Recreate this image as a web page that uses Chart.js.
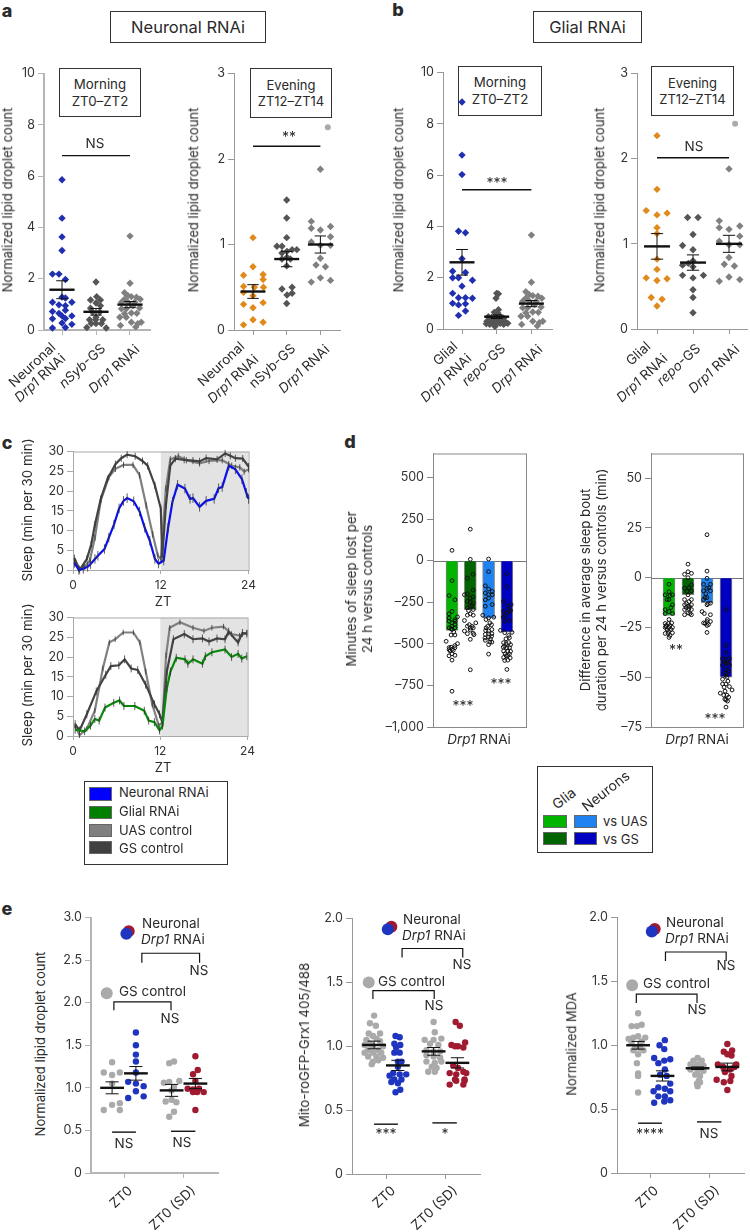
<!DOCTYPE html>
<html>
<head>
<meta charset="utf-8">
<title>Drp1 RNAi figure</title>
<script src="https://cdn.jsdelivr.net/npm/chart.js@4"></script>
<style>
  body { margin: 0; background: #fff; }
  #page { position: relative; width: 750px; height: 1232px; overflow: hidden; font-family: Inter, sans-serif; color: #2a2a2a; }
  #page canvas { position: absolute; }
  .t { position: absolute; white-space: nowrap; line-height: 1.2; font-weight: 400; }
  .box { position: absolute; box-sizing: border-box; border: 1.2px solid #333; background: #fff; display: flex; align-items: center; justify-content: center; text-align: center; font-weight: 400; }
  .sw { position: absolute; box-sizing: border-box; border: 1px solid #666; }
</style>
</head>
<body>
<div id="page"></div>
<script>
// panel a, neuronal RNAi: each point is [offset from group centre, value]
const a1Neuronal = [[0,5.86],[0,4.36],[0,3.63],[0,3.1],[-.28,2.18],[-.09,2.18],[.1,1.97],[0,1.28],[.1,1.25],[-.28,1.08],[.29,1.08],[-.09,.98],[.1,.95],[-.28,.72],[-.09,.65],[.1,.77],[-.28,.44],[0,.55],[.29,.55],[.1,.45],[0,.27],[.29,.22],[-.28,.08],[.1,.1]];
const a1NSyb = [[0,1.87],[.02,1.3],[-.16,1.17],[.13,1.17],[0,1.05],[.13,.95],[-.16,.85],[-.1,.7],[.11,.7],[-.19,.4],[-.01,.4],[.2,.4],[-.14,.25],[0,.25],[.16,.25],[-.27,.1],[.3,.08],[0,.5]];
const ctrlMorning = [[0,3.66],[0,1.82],[-.16,1.45],[-.06,1.34],[-.16,1.2],[.04,1.3],[.19,1.28],[.3,1.2],[-.25,1.08],[-.06,1.08],[.14,1.08],[.28,.86],[.09,.95],[-.25,.83],[-.11,.83],[-.16,.63],[.04,.66],[-.3,.5],[-.11,.5],[-.28,.18],[.04,.3],[.23,.25],[.33,.3],[.17,.12],[.2,.65]];
const a2Neuronal = [[0,1.08],[0,.74],[-.28,.64],[.3,.65],[-.28,.51],[.3,.59],[.04,.5],[.31,.5],[-.28,.44],[0,.4],[-.28,.3],[.3,.32],[0,.26],[-.28,.06],[0,.12],[.3,.09]];
const a2NSyb = [[0,1.52],[0,1.31],[0,1.08],[-.29,.98],[-.14,.98],[.3,.94],[.16,.94],[.01,.92],[-.14,.9],[.01,.85],[-.14,.83],[.11,.83],[0,.75],[-.14,.48],[.16,.5],[.01,.41],[.16,.43],[0,.31]];
const ctrlEvening = [[0,1.88],[-.27,1.27],[-.27,1.19],[0,1.17],[.3,1.21],[-.27,1.03],[.3,1.09],[.3,.99],[0,.99],[0,.84],[-.13,.76],[.15,.74],[0,.61],[-.27,.56],[.3,.58]];
const a2Outlier = [[.22,2.37]];
const a1Means = [1.57,.71,.99], a1Sems = [.35,.13,.12];
const a2Means = [.45,.83,1.0], a2Sems = [.08,.09,.1];

// panel b, glial RNAi
const b1Glial = [[0,8.85],[0,6.78],[0,6.02],[-.1,3.81],[.1,3.75],[0,2.74],[-.27,2.25],[.1,2.2],[-.27,2],[-.1,2],[.3,1.9],[0,1.67],[-.27,1.39],[-.1,1.22],[.1,1.22],[.3,1.2],[-.27,1],[-.1,.94],[.1,.98],[.1,.7],[-.1,.53]];
const b1Repo = [[0,1.39],[.05,1.37],[-.02,1.2],[.05,.75],[-.07,.65],[.03,.62],[-.24,.48],[.1,.5],[0,.55],[-.15,.42],[.2,.42],[-.28,.3],[-.18,.3],[-.07,.35],[.05,.35],[.15,.3],[.27,.25],[.32,.22],[-.3,.2],[-.2,.18],[-.1,.22],[0,.2],[.1,.22],[.2,.18],[-.05,.1]];
const b2Glial = [[0,2.27],[0,1.64],[-.3,1.39],[0,1.34],[.28,1.36],[0,1.19],[0,1.12],[0,.82],[0,.7],[-.3,.6],[0,.57],[.28,.59],[-.16,.37],[.14,.35],[0,.27]];
const b2Repo = [[-.15,1.31],[.14,1.31],[0,1.11],[-.29,.98],[0,.93],[0,.8],[-.29,.75],[-.13,.77],[0,.73],[-.29,.63],[0,.6],[.29,.63],[0,.46],[0,.37],[0,.19]];
const b2Outlier = [[.17,2.41]];
const b1Means = [2.6,.48,.99], b1Sems = [.5,.07,.12];
const b2Means = [.97,.78,1.0], b2Sems = [.15,.09,.1];

// panel c, sleep traces: [ZT, min per 30 min]
const c1Neuronal = [[.2,1.8],[.8,0],[1.4,.3],[2,.8],[2.4,1.5],[3,2.8],[3.4,3.6],[4.3,5.3],[4.9,8.2],[5.6,11.5],[6.3,15.6],[6.9,17.5],[7.4,18.2],[8.3,17.4],[9.1,14.8],[9.8,10.7],[10.5,7.4],[11.2,2.8],[11.7,1.6],[12.4,2.4],[13,10.7],[13.6,17.3],[14.3,21.6],[15.3,20.6],[16,18],[16.4,18.2],[17.3,16],[18.2,17.5],[19.3,18],[19.9,20.7],[20.4,21],[21.3,26.4],[22.2,25.5],[23.1,23],[23.7,19.5],[24,18]];
const c1Gs = [[.2,3],[.9,0],[1.9,2.8],[2.5,6.5],[3,11.5],[3.8,18],[4.7,23],[5.8,26.8],[6.6,28.3],[7.4,29.2],[8.5,28.8],[9.5,27.6],[10.2,26.4],[11.2,21.4],[12,15.6],[12.2,3.2],[12.7,16.4],[13.3,26.4],[14,28.2],[15.2,27.9],[16.4,27.7],[17.3,27.5],[18.2,28.3],[19.7,28],[20.8,29.5],[21.5,28.9],[22.2,28.3],[23.2,28.2],[24,26.2]];
const c1Uas = [[.2,2],[.8,.3],[1.6,.8],[2.3,2.4],[3,8.2],[3.8,17.7],[4.9,23.5],[5.8,25.6],[6.9,26.6],[8.2,26.6],[9.1,24],[10,16.4],[10.9,9],[11.6,3.6],[12,2.8],[12.7,20.6],[13.3,28],[14.4,28.8],[15.5,27.8],[17.3,27],[18.6,27.6],[20.4,27.8],[21.7,26.4],[22.8,26],[23.4,24.9],[24,25.5]];
const c2Glial = [[.3,1.6],[1.6,1.2],[2.4,2.6],[3,4.3],[3.6,3.9],[4.4,7.2],[5.6,8.4],[6.4,9],[7,7.6],[8.5,7.6],[9.8,6.4],[10.4,3.9],[11.2,3.5],[11.9,1.4],[12.3,2.6],[12.9,12.1],[13.4,16.3],[14.2,19.8],[15.4,19.4],[15.8,18.3],[16.5,19.4],[17.8,18.3],[18.2,20.2],[19.1,21.2],[20.9,21.9],[21.8,20],[22.7,20.8],[23.2,19.6],[23.9,20.2]];
const c2Gs = [[.3,3],[.9,1.4],[1.9,5.5],[3.2,11.3],[4.5,15.5],[5.2,17.7],[6.3,17.9],[7.1,19.4],[8,17.1],[8.9,16.7],[10,13],[11.2,8],[11.9,5.5],[12.3,3.5],[12.9,16.3],[13.8,24.5],[15.3,25.8],[16.5,24.5],[17.8,24.7],[18.7,23.9],[19.8,24.7],[20.9,24.5],[21.4,26.4],[22.7,23.7],[23.3,26.1],[23.9,25.9]];
const c2Uas = [[.3,2.6],[.9,.2],[1.9,1.8],[3,6.4],[4.1,17.1],[5,23.7],[5.8,24.5],[6.9,26.2],[8.3,26.2],[9.2,23.7],[10,16.3],[10.9,8],[11.8,2.6],[12.3,3.5],[12.8,20.4],[13.3,27.4],[14.7,28.8],[16.5,27.4],[18,26.6],[19.1,27.4],[20.7,27.7],[21.8,25.8],[22.9,25.4],[23.9,26.1]];
const c1Sems = {neuronal:1.2, gs:.9, uas:.8};
const c2Sems = {glial:1.0, gs:1.0, uas:.7};
const cXTicks = [0,12,24];

// panel d, bars and per-fly differences: [offset from bar, value]
const d1Bars = [-420,-295,-345,-430];
const d1GliaUas = [[0,62],[0,-120],[-.16,-210],[.16,-235],[0,-305],[-.16,-320],[.3,-338],[.16,-355],[-.16,-364],[0,-374],[.16,-384],[-.16,-404],[0,-414],[.16,-404],[-.05,-447],[.16,-447],[-.32,-485],[.3,-499],[-.16,-523],[0,-533],[.16,-523],[-.1,-543],[.07,-539],[-.16,-572],[.16,-569],[0,-598],[0,-785],[-.16,-345],[0,-395],[.16,-365],[-.05,-410],[.1,-430],[-.16,-535],[.16,-510],[0,-560],[-.05,-520]];
const d1GliaGs = [[0,189],[0,8],[.16,-82],[-.16,-105],[.16,-177],[-.16,-199],[.16,-219],[-.32,-205],[0,-225],[-.16,-245],[.16,-254],[0,-274],[-.16,-284],[.16,-294],[0,-320],[-.16,-328],[-.32,-360],[.16,-328],[-.16,-394],[.16,-404],[0,-417],[.3,-374],[-.32,-423],[-.16,-439],[.16,-437],[0,-473],[0,-656],[0,-250],[.1,-270],[-.1,-300],[-.05,-385],[.1,-395],[0,-405],[.2,-445]];
const d1NeuronUas = [[0,10],[0,-66],[-.18,-151],[.2,-185],[0,-171],[-.18,-195],[.2,-205],[0,-205],[-.18,-235],[0,-225],[.2,-264],[-.18,-274],[-.32,-328],[0,-344],[.28,-340],[.07,-374],[-.14,-354],[-.14,-404],[.18,-414],[0,-423],[-.18,-443],[.18,-439],[0,-459],[-.18,-479],[.07,-489],[0,-505],[0,-562],[.16,-385],[-.16,-420],[.16,-455],[0,-440],[-.2,-465],[.18,-490],[-.05,-395],[.1,-470]];
const d1NeuronGs = [[0,-80],[0,-157],[-.18,-245],[.23,-264],[.05,-274],[-.18,-304],[.14,-304],[0,-314],[-.12,-364],[.14,-360],[-.35,-419],[.28,-431],[-.12,-433],[.14,-463],[-.18,-493],[.1,-493],[-.12,-513],[.14,-523],[-.18,-543],[.05,-543],[-.04,-572],[-.18,-582],[.14,-562],[.05,-598],[0,-654],[.2,-505],[-.05,-500],[0,-525],[-.2,-520],[.2,-545],[-.1,-560],[.05,-570],[.18,-585],[-.12,-600],[-.05,-470],[.1,-450],[-.2,-340],[.2,-300],[-.08,-330]];
const d2Bars = [-19,-8.5,-12.5,-50];
const d2GliaUas = [[0,-3.3],[0,-7],[-.2,-8.6],[.18,-8.6],[0,-11],[.18,-13.6],[-.2,-16],[0,-17],[.18,-18],[-.2,-18],[0,-21],[-.2,-23],[-.03,-23],[.14,-22.7],[-.2,-25],[0,-25],[.18,-25],[-.03,-27],[-.2,-28],[.18,-27.7],[0,-30],[-.15,-24],[.05,-24],[-.1,-26],[.1,-26],[-.05,-28],[.05,-29],[-.15,-24.5],[.1,-15],[-.1,-11],[.05,-9]];
const d2GliaGs = [[0,6.8],[0,3],[-.18,1.7],[.18,2.2],[0,0],[.18,-3.6],[-.18,-5.3],[.18,-6.6],[0,-8.6],[-.18,-11],[.18,-11],[-.18,-13.6],[0,-14.4],[.18,-13.6],[-.18,-16],[.18,-16],[0,-17.7],[-.18,-18.6],[.18,-18.6],[.05,-5],[-.05,-7],[.05,-12],[-.08,-13],[.08,-14.5],[-.1,-15],[.05,-15.5],[.1,-18]];
const d2NeuronUas = [[0,21.6],[0,3.3],[0,-.3],[-.18,-3.3],[.18,-3.3],[0,-5.3],[-.18,-6.6],[.18,-6.6],[0,-10],[-.18,-11],[.18,-12.8],[0,-13.6],[-.26,-17],[.18,-18.6],[-.14,-18],[0,-22],[-.18,-22.7],[.18,-22],[0,-24],[0,-27.5],[-.06,-8],[.1,-5],[-.1,-10],[.06,-13],[-.1,-23],[.08,-23.5],[.02,-21]];
const d2NeuronGs = [[0,-16],[0,-34],[0,-37.6],[-.18,-40.6],[.18,-40.6],[0,-42.6],[-.18,-44],[.18,-44],[0,-46.4],[0,-49],[-.18,-51],[0,-53.4],[.18,-54.7],[-.18,-53.4],[.32,-56.4],[-.3,-58],[-.12,-59],[.14,-60],[0,-61.4],[0,-65],[-.1,-42],[.1,-43],[-.05,-48],[.05,-50],[.1,-52],[-.1,-55],[-.05,-57],[.05,-59],[-.06,-61],[.08,-62],[.12,-47],[.02,-41]];
const d1Ticks = [500,250,0,-250,-500,-750,-1000];
const d2Ticks = [50,25,0,-25,-50,-75];

// panel e: [offset from group centre, value]
const e1GsZt0 = [[0,1.3],[-.14,1.18],[.13,1.18],[0,1.15],[0,1.05],[.13,.82],[0,.8],[-.14,.74],[.13,.74]];
const e1DrpZt0 = [[0,1.65],[0,1.5],[0,1.39],[0,1.31],[0,1.18],[-.13,1.07],[0,1.05],[.13,1.02],[0,.96],[.13,.9],[-.13,.88]];
const e1GsSd = [[-.04,1.29],[.04,1.31],[-.13,1.06],[-.04,1.07],[.13,1.08],[.04,1.01],[0,.97],[-.1,.84],[0,.86],[.08,.83],[.04,.72],[-.04,.66]];
const e1DrpSd = [[0,1.37],[.04,1.21],[-.04,1.16],[0,1.08],[-.13,.99],[-.04,.98],[.06,.99],[.14,.95],[-.04,.95],[.03,.95],[0,.74]];
const e1Means = [1.0,1.17,.97,1.05], e1Sems = [.07,.08,.07,.06];
const e2GsZt0 = [[0,1.24],[-.07,1.18],[.03,1.16],[-.09,1.1],[.1,1.1],[-.02,1.08],[-.13,1.05],[.04,1.06],[-.07,1.02],[.1,1.04],[-.16,1.01],[.15,1],[-.02,1],[-.1,.97],[.07,.97],[-.16,.95],[-.02,.95],[.12,.95],[-.1,.92],[.04,.92],[.15,.91],[-.02,.88],[.07,.89],[-.04,.86]];
const e2DrpZt0 = [[-.04,1.08],[.03,1.07],[-.06,1.02],[.04,1.01],[-.03,.99],[.03,.95],[-.06,.95],[0,.88],[.06,.88],[0,.84],[-.08,.79],[.14,.78],[.03,.78],[-.14,.77],[-.06,.74],[.06,.74],[0,.71],[-.11,.72],[.04,.66],[-.04,.64]];
const e2GsSd = [[0,1.19],[.02,1.11],[-.15,1.05],[0,1.05],[.13,1.06],[-.06,1.02],[.08,1.01],[-.12,.97],[0,.96],[.11,.96],[-.12,.93],[0,.92],[.11,.91],[-.12,.88],[.02,.87],[.13,.88],[-.03,.84],[.05,.83],[-.09,.8],[.02,.8]];
const e2DrpSd = [[-.03,1.19],[.04,1.16],[-.1,1.01],[.13,1.03],[.01,1],[.1,.99],[-.04,1],[-.13,.79],[-.02,.78],[.15,.79],[.1,.8],[-.07,.85],[.01,.83],[-.04,.74],[.12,.74],[-.13,.7],[-.02,.73],[.1,.7],[.12,.73]];
const e2Means = [1.01,.85,.96,.87], e2Sems = [.03,.04,.03,.04];
const e3GsZt0 = [[0,1.25],[-.11,1.15],[-.02,1.15],[.06,1.16],[-.08,1.06],[-.16,1.05],[0,1.07],[.12,1.06],[-.11,1.02],[.06,1.03],[-.05,.98],[.03,.98],[-.08,.96],[.09,.96],[0,.93],[-.02,.86],[0,.78],[0,.76],[0,.63]];
const e3DrpZt0 = [[.04,1.04],[-.05,1],[.03,.97],[-.14,.9],[.13,.89],[.03,.88],[-.07,.86],[.04,.81],[-.04,.77],[.07,.76],[.13,.7],[-.07,.67],[.04,.66],[-.15,.64],[.13,.64],[-.07,.6],[.04,.6],[-.14,.55],[.03,.56],[.13,.57]];
const e3GsSd = [[0,.9],[-.07,.88],[.07,.88],[-.12,.85],[0,.85],[.1,.84],[-.07,.83],[.04,.83],[-.12,.81],[0,.8],[.1,.8],[-.04,.77],[.04,.76],[.02,.72],[-.01,.7],[.04,.71],[0,.68]];
const e3DrpSd = [[0,1.01],[-.06,.95],[.08,.96],[0,.93],[.07,.92],[.15,.85],[-.16,.85],[-.07,.83],[.04,.81],[.12,.83],[-.04,.79],[.07,.76],[-.18,.73],[-.06,.71],[.05,.72],[0,.65]];
const e3Means = [1.0,.76,.82,.83], e3Sems = [.03,.04,.01,.03];

// significance lines [x1, x2, y] and brackets [x1, x2, top, foot]
const a1Sig = [[1,3,6.8]], a2Sig = [[1,3,2.15]], b1Sig = [[1,3,5.43]], b2Sig = [[1,3,2.01]];
const e1Sig = [[.8,1.2,.48],[1.79,2.2,.49]], e2Sig = [[.8,1.2,.39],[1.78,2.19,.4]], e3Sig = [[.8,1.2,.39],[1.79,2.2,.4]];
const e1Brackets = [[1.3,2.27,2.58,2.47],[.83,1.79,2.01,1.91]];
const e2Brackets = [[1.27,2.29,1.765,1.695],[.78,1.81,1.435,1.37]];
const e3Brackets = [[1.26,2.28,1.73,1.66],[.77,1.79,1.4,1.33]];
// key dots in panel e [x, y]
const e1Key = {red:[1.08,2.84], blue:[1.04,2.81], gray:[.71,2.11]};
const e2Key = {red:[1.09,1.935], blue:[1.03,1.915], gray:[.71,1.5]};
const e3Key = {red:[1.08,1.91], blue:[1.03,1.89], gray:[.7,1.47]};

const BLUE = '#1f2fb0', ORANGE = '#e08a1c', DARK = '#555', MID = '#808080', LIGHT = '#aaa', RED = '#a01a30', EBLUE = '#1f35c0';
const DIA = 3.7;

Chart.defaults.font.family = 'Inter, sans-serif';
Chart.defaults.font.weight = 400;
Chart.defaults.color = '#333';

const page = document.getElementById('page');

function put(html, x, y, o) {
  o = o || {};
  const el = document.createElement('div');
  el.className = 't';
  el.innerHTML = html;
  el.style.left = x + 'px';
  el.style.top = y + 'px';
  el.style.fontSize = (o.size || 13) + 'px';
  if (o.weight) el.style.fontWeight = o.weight;
  if (o.center) el.style.textAlign = 'center';
  // x,y is the centre unless anchor says otherwise
  if (o.anchor === 'left') el.style.transform = 'translate(0,-50%)';
  else if (o.anchor === 'end') {
    el.style.transformOrigin = '100% 50%';
    el.style.transform = 'translate(-100%,-50%) rotate(' + (o.rot || -43) + 'deg)';
  } else el.style.transform = 'translate(-50%,-50%) rotate(' + (o.rot || 0) + 'deg)';
  page.appendChild(el);
}

function box(html, x1, y1, x2, y2, size) {
  const el = document.createElement('div');
  el.className = 'box';
  el.innerHTML = html;
  el.style.cssText += 'left:' + x1 + 'px;top:' + y1 + 'px;width:' + (x2 - x1) + 'px;height:' + (y2 - y1) + 'px;font-size:' + size + 'px;line-height:1.25';
  page.appendChild(el);
}

function swatch(color, x1, y1, x2, y2) {
  const el = document.createElement('div');
  el.className = 'sw';
  el.style.cssText += 'left:' + x1 + 'px;top:' + y1 + 'px;width:' + (x2 - x1) + 'px;height:' + (y2 - y1) + 'px;background:' + color;
  page.appendChild(el);
}

function xy(p) { return {x: p[0], y: p[1]}; }
function lineSet(data, color, width) {
  return {type: 'scatter', data: data, showLine: true, spanGaps: false, borderColor: color, borderWidth: width, pointRadius: 0, clip: false};
}
function dots(pts, at, color, shape, r, extra) {
  return Object.assign({type: 'scatter', data: pts.map(p => ({x: at + p[0], y: p[1]})), pointStyle: shape, pointRadius: r, backgroundColor: color, borderWidth: 0, clip: false}, extra || {});
}
// mean bar plus sem whisker from the named mean and sem values
function meanSem(at, m, s, half, cap) {
  return [
    lineSet([{x: at - half, y: m}, {x: at + half, y: m}], '#111', 2.4),
    lineSet([{x: at, y: m - s}, {x: at, y: m + s}, {x: NaN, y: NaN}, {x: at - cap, y: m + s}, {x: at + cap, y: m + s}, {x: NaN, y: NaN}, {x: at - cap, y: m - s}, {x: at + cap, y: m - s}], '#111', 1)
  ];
}
function sigLines(rows) {
  return rows.map(r => lineSet([{x: r[0], y: r[2]}, {x: r[1], y: r[2]}], '#111', 1.4));
}
function brackets(rows) {
  return rows.map(r => lineSet([{x: r[0], y: r[3]}, {x: r[0], y: r[2]}, {x: r[1], y: r[2]}, {x: r[1], y: r[3]}], '#111', 1.2));
}
function whiskers(pts, sem) {
  const out = [];
  pts.forEach(p => { out.push({x: p[0], y: p[1] - sem}, {x: p[0], y: p[1] + sem}, {x: NaN, y: NaN}); });
  return out;
}

// plot box in page pixels; gutter is the room kept for the y axis labels
function panel(o) {
  const gutter = o.gutter || 40, topPad = 8, rightPad = 6, bottomH = o.bottomH || 12;
  const cv = document.createElement('canvas');
  const w = o.right - o.left + gutter + rightPad, h = o.bottom - o.top + topPad + bottomH;
  cv.width = w; cv.height = h;
  cv.style.left = (o.left - gutter) + 'px';
  cv.style.top = (o.top - topPad) + 'px';
  cv.style.width = w + 'px'; cv.style.height = h + 'px';
  page.appendChild(cv);

  const xMin = o.xMin !== undefined ? o.xMin : 1 - (o.firstTick - o.left) / o.spacing;
  const xMax = o.xMax !== undefined ? o.xMax : 1 + (o.right - o.firstTick) / o.spacing;
  const axisColor = o.axisColor || '#999', axisW = o.axisW || 1;

  return new Chart(cv, {
    type: 'scatter',
    data: {datasets: o.datasets},
    options: {
      responsive: false, animation: false, devicePixelRatio: 1,
      layout: {padding: {top: topPad, right: rightPad, left: 0, bottom: 0}},
      plugins: {legend: {display: false}, tooltip: {enabled: false}},
      scales: {
        x: {
          type: 'linear', min: xMin, max: xMax,
          afterFit(s) { s.height = bottomH; },
          afterBuildTicks(s) { s.ticks = o.xTicks.map(v => ({value: v})); },
          ticks: {display: !!o.xLabels, font: {size: 12}, padding: 4, maxRotation: 0, autoSkip: false, callback: v => String(v)},
          grid: {drawOnChartArea: false, drawTicks: true, tickLength: o.xTickLen || 5, tickColor: axisColor},
          border: {color: axisColor, width: axisW}
        },
        y: {
          type: 'linear', min: o.yMin || 0, max: o.yMax,
          afterFit(s) { s.width = gutter; },
          afterBuildTicks(s) { s.ticks = o.yTicks.map(v => ({value: v})); },
          ticks: {font: {size: o.tickSize || 12.5}, padding: 3, autoSkip: false, callback: o.yFormat || (v => String(v))},
          grid: {drawOnChartArea: false, tickLength: 6, tickColor: axisColor},
          border: {color: axisColor, width: axisW}
        }
      }
    },
    plugins: [{
      id: 'frame',
      beforeDatasetsDraw(c) {
        const a = c.chartArea, ctx = c.ctx;
        if (o.night) {
          ctx.fillStyle = '#e3e3e3';
          const px = c.scales.x.getPixelForValue(o.night);
          ctx.fillRect(px, a.top, a.right - px, a.bottom - a.top);
        }
        if (o.frame) {
          ctx.strokeStyle = axisColor; ctx.lineWidth = 1;
          ctx.strokeRect(a.left + .5, a.top + .5, a.right - a.left, a.bottom - a.top);
        }
        if (o.zero) {
          const py = Math.round(c.scales.y.getPixelForValue(0)) + .5;
          ctx.strokeStyle = '#777'; ctx.lineWidth = 1;
          ctx.beginPath(); ctx.moveTo(a.left, py); ctx.lineTo(a.right, py); ctx.stroke();
        }
      }
    }]
  });
}

// titles and call-out boxes sit behind the charts
box('Neuronal RNAi', 110, 11, 266, 43, 16.5);
box('Glial RNAi', 533, 11, 642, 43, 16.5);
box('Morning<br>ZT0–ZT2', 59, 68, 141, 117, 13.3);
box('Evening<br>ZT12–ZT14', 250, 68, 332, 118, 13);
box('Morning<br>ZT0–ZT2', 458, 66, 542, 116, 13.3);
box('Evening<br>ZT12–ZT14', 651, 66, 734, 116, 13);

put('a', 7, 11, {size: 18, weight: 800});
put('b', 398, 10, {size: 18, weight: 800});
put('c', 7, 443, {size: 18, weight: 800});
put('d', 350, 442, {size: 18, weight: 800});
put('e', 7, 909, {size: 18, weight: 800});

const AX_A = {axisColor: '#b5b5b5', axisW: 2};
panel(Object.assign({left: 44, right: 150, top: 71, bottom: 330, firstTick: 62, spacing: 34, yMax: 10, yTicks: [0,2,4,6,8,10], xTicks: [1,2,3],
  datasets: [
    ...meanSem(1, a1Means[0], a1Sems[0], .37, .17), ...meanSem(2, a1Means[1], a1Sems[1], .37, .17), ...meanSem(3, a1Means[2], a1Sems[2], .37, .17),
    ...sigLines(a1Sig),
    dots(a1Neuronal, 1, BLUE, 'rectRot', DIA), dots(a1NSyb, 2, DARK, 'rectRot', DIA), dots(ctrlMorning, 3, MID, 'rectRot', DIA)
  ]}, AX_A));
panel({left: 234, right: 340, top: 71, bottom: 330, firstTick: 253, spacing: 33.7, yMax: 3, yTicks: [0,1,2,3], xTicks: [1,2,3],
  datasets: [
    ...meanSem(1, a2Means[0], a2Sems[0], .37, .17), ...meanSem(2, a2Means[1], a2Sems[1], .37, .17), ...meanSem(3, a2Means[2], a2Sems[2], .37, .17),
    ...sigLines(a2Sig),
    dots(a2Neuronal, 1, ORANGE, 'rectRot', DIA), dots(a2NSyb, 2, DARK, 'rectRot', DIA), dots(ctrlEvening, 3, MID, 'rectRot', DIA),
    dots(a2Outlier, 3, LIGHT, 'circle', 3)
  ]});
panel({left: 443, right: 552, top: 70, bottom: 329, firstTick: 462, spacing: 34.7, yMax: 10, yTicks: [0,2,4,6,8,10], xTicks: [1,2,3],
  datasets: [
    ...meanSem(1, b1Means[0], b1Sems[0], .36, .17), ...meanSem(2, b1Means[1], b1Sems[1], .36, .17), ...meanSem(3, b1Means[2], b1Sems[2], .36, .17),
    ...sigLines(b1Sig),
    dots(b1Glial, 1, BLUE, 'rectRot', DIA), dots(b1Repo, 2, DARK, 'rectRot', DIA), dots(ctrlMorning, 3, MID, 'rectRot', DIA)
  ]});
panel({left: 637, right: 747, top: 71, bottom: 329, firstTick: 657, spacing: 36, yMax: 3, yTicks: [0,1,2,3], xTicks: [1,2,3],
  datasets: [
    ...meanSem(1, b2Means[0], b2Sems[0], .36, .17), ...meanSem(2, b2Means[1], b2Sems[1], .36, .17), ...meanSem(3, b2Means[2], b2Sems[2], .36, .17),
    ...sigLines(b2Sig),
    dots(b2Glial, 1, ORANGE, 'rectRot', DIA), dots(b2Repo, 2, DARK, 'rectRot', DIA), dots(ctrlEvening, 3, MID, 'rectRot', DIA),
    dots(b2Outlier, 3, LIGHT, 'circle', 3)
  ]});

const yLipid = 'Normalized lipid droplet count';
put(yLipid, 8, 200, {rot: -90, size: 13});
put(yLipid, 194, 200, {rot: -90, size: 13});
put(yLipid, 399, 200, {rot: -90, size: 13});
put(yLipid, 600, 200, {rot: -90, size: 13});
put('NS', 95, 143, {size: 13.5});
put('**', 289, 137, {size: 14});
put('***', 497, 183, {size: 14});
put('NS', 694, 146, {size: 13.5});

const drp = '<i>Drp1</i> RNAi';
[['Neuronal',53,345],[drp,63,356],['<i>nSyb</i>-GS',103,346],[drp,137,347],
 ['Neuronal',242,344],[drp,256,357],['nSyb-GS',293,346],[drp,327,347],
 ['Glial',455,344],[drp,469,356],['<i>repo</i>-GS',503,346],[drp,540,347],
 ['Glial',648,344],[drp,665,356],['<i>repo</i>-GS',698,346],[drp,737,347]
].forEach(r => put(r[0], r[1], r[2], {anchor: 'end', size: 13.5}));

// panel c
const cLine = (pts, color) => lineSet(pts.map(xy), color, 2.2);
const cErr = (pts, sem) => lineSet(whiskers(pts, sem), '#333', .8);
const cOpts = {xMin: 0, xMax: 24, yMax: 30, yTicks: [0,5,10,15,20,25,30], xTicks: cXTicks, xLabels: true, bottomH: 24, night: 12, frame: true, axisColor: '#aaa', xTickLen: 4};
panel(Object.assign({left: 73, right: 254, top: 449, bottom: 570,
  datasets: [
    cErr(c1Neuronal, c1Sems.neuronal), cLine(c1Neuronal, '#0a10f0'),
    cErr(c1Gs, c1Sems.gs), cLine(c1Gs, '#444'),
    cErr(c1Uas, c1Sems.uas), cLine(c1Uas, '#808080')
  ]}, cOpts));
panel(Object.assign({left: 73, right: 253, top: 615, bottom: 736,
  datasets: [
    cErr(c2Glial, c2Sems.glial), cLine(c2Glial, '#088a08'),
    cErr(c2Gs, c2Sems.gs), cLine(c2Gs, '#444'),
    cErr(c2Uas, c2Sems.uas), cLine(c2Uas, '#808080')
  ]}, cOpts));
put('ZT', 163, 602, {size: 13});
put('ZT', 163, 768, {size: 13});
put('Sleep (min per 30 min)', 28, 510, {rot: -90, size: 13.3});
put('Sleep (min per 30 min)', 28, 675, {rot: -90, size: 13.3});

box('', 84, 781, 228, 865, 13);
[['#0000ff','Neuronal RNAi',787,801,793],['#008000','Glial RNAi',806,819,812],['#808080','UAS control',824,837,831],['#404040','GS control',841,854,849]].forEach(r => {
  swatch(r[0], 89, r[2], 112, r[3]);
  put(r[1], 119, r[4], {anchor: 'left', size: 13});
});

// panel d
const ring = {borderWidth: 1, borderColor: '#111', backgroundColor: 'rgba(255,255,255,0)'};
const barSet = (vals, i, color) => ({type: 'bar', data: [{x: i + 1, y: vals[i]}], backgroundColor: color, borderColor: '#888', borderWidth: 1, barThickness: 12, grouped: false, order: 5});
const dColors = ['#00b400', '#006400', '#1e82f0', '#0000c0'];
const fmtD = v => (v < 0 ? '–' : '') + Math.abs(v).toLocaleString('en-US');
panel({left: 433, right: 526, top: 451, bottom: 727, firstTick: 452, spacing: 18.3, yMin: -1000, yMax: 644, yTicks: d1Ticks, xTicks: [], gutter: 62, frame: true, zero: true, axisColor: '#888', yFormat: fmtD,
  datasets: [
    dots(d1GliaUas, 1, '', 'circle', 1.9, ring), dots(d1GliaGs, 2, '', 'circle', 1.9, ring), dots(d1NeuronUas, 3, '', 'circle', 1.9, ring), dots(d1NeuronGs, 4, '', 'circle', 1.9, ring),
    barSet(d1Bars, 0, dColors[0]), barSet(d1Bars, 1, dColors[1]), barSet(d1Bars, 2, dColors[2]), barSet(d1Bars, 3, dColors[3])
  ]});
panel({left: 651, right: 743, top: 451, bottom: 727, firstTick: 669, spacing: 19, yMin: -75, yMax: 62.4, yTicks: d2Ticks, xTicks: [], gutter: 44, frame: true, zero: true, axisColor: '#888', yFormat: fmtD,
  datasets: [
    dots(d2GliaUas, 1, '', 'circle', 1.9, ring), dots(d2GliaGs, 2, '', 'circle', 1.9, ring), dots(d2NeuronUas, 3, '', 'circle', 1.9, ring), dots(d2NeuronGs, 4, '', 'circle', 1.9, ring),
    barSet(d2Bars, 0, dColors[0]), barSet(d2Bars, 1, dColors[1]), barSet(d2Bars, 2, dColors[2]), barSet(d2Bars, 3, dColors[3])
  ]});
put('Minutes of sleep lost per<br>24 h versus controls', 360, 589, {rot: -90, size: 13.3, center: true});
put('Difference in average sleep bout<br>duration per 24 h versus controls (min)', 594, 590, {rot: -90, size: 13.2, center: true});
put(drp, 479, 739, {size: 13.5});
put(drp, 697, 739, {size: 13.5});
put('***', 463, 706, {size: 14});
put('***', 501, 684, {size: 14});
put('**', 676, 650, {size: 14});
put('***', 715, 719, {size: 14});

box('', 537, 766, 653, 853, 13);
swatch(dColors[0], 543, 815, 567, 828); swatch(dColors[2], 574, 815, 597, 828);
swatch(dColors[1], 543, 832, 567, 845); swatch(dColors[3], 574, 832, 597, 845);
put('vs UAS', 603, 822, {anchor: 'left', size: 13});
put('vs GS', 603, 840, {anchor: 'left', size: 13});
put('Glia', 574, 791, {anchor: 'end', rot: -38, size: 14});
put('Neurons', 628, 774, {anchor: 'end', rot: -38, size: 14});

// panel e
function ePanel(o, groups, means, sems, sig, brk, key, atRed, atBlue) {
  const ats = [.8, atBlue || 1.2, 1.8, atRed || 2.2];
  const cols = [LIGHT, EBLUE, LIGHT, RED];
  let sets = [];
  ats.forEach((at, i) => { sets = sets.concat(meanSem(at, means[i], sems[i], .2, .11)); });
  sets = sets.concat(sigLines(sig), brackets(brk));
  sets.push(dots([key.blue], 0, EBLUE, 'circle', 6), dots([key.red], 0, RED, 'circle', 6), dots([key.gray], 0, LIGHT, 'circle', 6));
  groups.forEach((g, i) => sets.push(dots(g, ats[i], cols[i], 'circle', 3.2)));
  panel(Object.assign({spacing: 59.5, xTicks: [1, 2], datasets: sets}, o));
}
ePanel(Object.assign({left: 91, right: 218, top: 915, bottom: 1173, firstTick: 124, yMax: 3, yTicks: [0,.5,1,1.5,2,2.5,3], yFormat: v => v === 0 ? '0' : v.toFixed(1)}, AX_A),
  [e1GsZt0, e1DrpZt0, e1GsSd, e1DrpSd], e1Means, e1Sems, e1Sig, e1Brackets, e1Key);
ePanel({left: 352, right: 480, top: 916, bottom: 1174, firstTick: 386, yMax: 2, yTicks: [0,.5,1,1.5,2], yFormat: v => v === 0 ? '0' : v.toFixed(1)},
  [e2GsZt0, e2DrpZt0, e2GsSd, e2DrpSd], e2Means, e2Sems, e2Sig, e2Brackets, e2Key);
ePanel({left: 617, right: 744, top: 915, bottom: 1173, firstTick: 650, yMax: 2, yTicks: [0,.5,1,1.5,2], yFormat: v => v === 0 ? '0' : v.toFixed(1)},
  [e3GsZt0, e3DrpZt0, e3GsSd, e3DrpSd], e3Means, e3Sems, e3Sig, e3Brackets, e3Key, 2.3, 1.21);

put('Normalized lipid droplet count', 41, 1044, {rot: -90, size: 13});
put('Mito-roGFP-Grx1 405/488', 305, 1045, {rot: -90, size: 13.3});
put('Normalized MDA', 572, 1044, {rot: -90, size: 13});

[[142,923,939,199,970,119,991,170,1018],[403,919,935,462,964,378,981,434,1005],[666,922,938,726,965,643,983,697,1009]].forEach(r => {
  put('Neuronal', r[0], r[1], {anchor: 'left', size: 13.5});
  put(drp, r[0] - 1, r[2], {anchor: 'left', size: 13.5});
  put('NS', r[3], r[4], {size: 13.5});
  put('GS control', r[5], r[6], {anchor: 'left', size: 13.5});
  put('NS', r[7], r[8], {size: 13.5});
});
put('NS', 124, 1143, {size: 13.5});
put('NS', 182, 1142, {size: 13.5});
put('***', 386, 1134, {size: 14});
put('*', 445, 1134, {size: 14});
put('****', 650, 1134, {size: 14});
put('NS', 709, 1133, {size: 13.5});

[['ZT0',130,1188],['ZT0 (SD)',193,1188],['ZT0',393,1188],['ZT0 (SD)',455,1188],['ZT0',656,1188],['ZT0 (SD)',717,1188]].forEach(r => put(r[0], r[1], r[2], {anchor: 'end', size: 13.5}));
</script>
</body>
</html>
